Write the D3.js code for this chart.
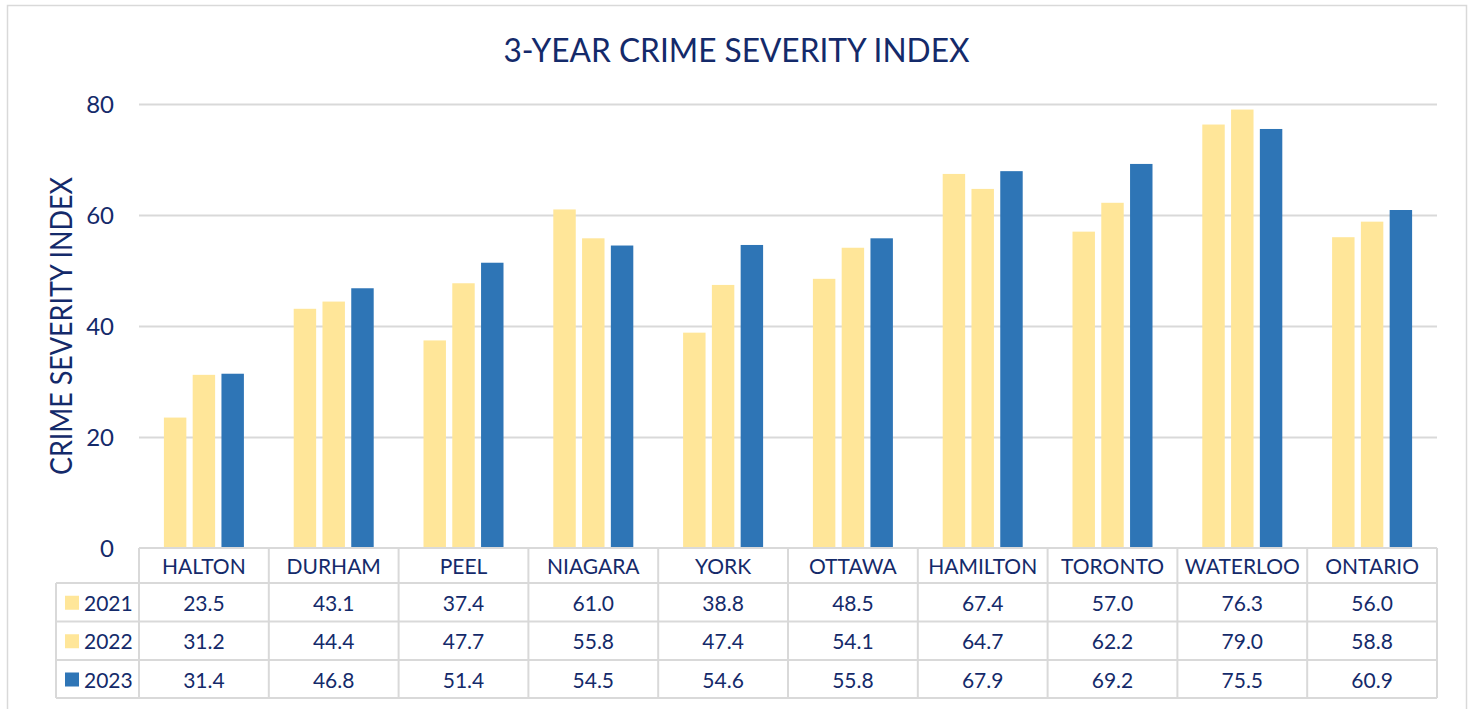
<!DOCTYPE html>
<html>
<head>
<meta charset="utf-8">
<script src="https://cdn.jsdelivr.net/npm/d3@7"></script>
<style>
  body { margin: 0; background: #fff; }
  text { font-family: Lato, "Open Sans", sans-serif; fill: #142a6a; }
</style>
</head>
<body>
<script>
var regions = ['HALTON', 'DURHAM', 'PEEL', 'NIAGARA', 'YORK', 'OTTAWA', 'HAMILTON', 'TORONTO', 'WATERLOO', 'ONTARIO'];
var years   = ['2021', '2022', '2023'];

var values2021 = [23.5, 43.1, 37.4, 61.0, 38.8, 48.5, 67.4, 57.0, 76.3, 56.0];
var values2022 = [31.2, 44.4, 47.7, 55.8, 47.4, 54.1, 64.7, 62.2, 79.0, 58.8];
var values2023 = [31.4, 46.8, 51.4, 54.5, 54.6, 55.8, 67.9, 69.2, 75.5, 60.9];

var yTicks = [0, 20, 40, 60, 80];
var colors = ['#ffe699', '#ffe699', '#2e75b6'];

var title  = '3-YEAR CRIME SEVERITY INDEX',
    yTitle = 'CRIME SEVERITY INDEX';

{ // INIT
  var width  = 1471,
      height = 709;

  // plot area (window.top is read-only, so no "top" here)
  var plotLeft   = 139,
      plotRight  = 1437,
      plotTop    = 104,
      plotBottom = 548;

  var series = [values2021, values2022, values2023];
  var rows = years.map(function(y, i) { return {year: y, values: series[i], color: colors[i]}; });

  var svg = d3.select('body').append('svg')
      .attr('width', width)
      .attr('height', height);

  // outer frame
  svg.append('rect')
      .attr('x', 7.5).attr('y', 5.5)
      .attr('width', 1459).attr('height', 720)
      .attr('fill', 'none')
      .attr('stroke', '#d9d9d9')
      .attr('stroke-width', 1.5);

  var x = d3.scaleBand()
      .domain(regions)
      .range([plotLeft, plotRight])
      .padding(0);

  var x1 = d3.scaleBand()
      .domain(years)
      .range([-40, 40])
      .paddingInner(0.22);

  var y = d3.scaleLinear()
      .domain([0, 80])
      .range([plotBottom, plotTop]);

  svg.append('text')
      .attr('x', 736.5)
      .attr('y', 62)
      .attr('text-anchor', 'middle')
      .attr('font-size', 33)
      .attr('textLength', 466)
      .attr('lengthAdjust', 'spacingAndGlyphs')
      .text(title);

  svg.append('text')
      .attr('transform', 'translate(71.5,' + y(40) + ') rotate(-90)')
      .attr('text-anchor', 'middle')
      .attr('font-size', 30)
      .attr('textLength', 298)
      .attr('lengthAdjust', 'spacingAndGlyphs')
      .text(yTitle);

  // gridlines + tick labels
  svg.append('g')
      .attr('transform', 'translate(' + plotLeft + ',0)')
      .call(d3.axisLeft(y).tickValues(yTicks).tickSize(plotLeft - plotRight).tickPadding(25))
      .call(function(g) {
        g.select('.domain').remove();
        g.selectAll('.tick line')
            .attr('stroke', '#d9d9d9')
            .attr('stroke-width', 2)
            .filter(function(d) { return d === 0; }).remove();
        g.selectAll('.tick text')
            .attr('fill', '#142a6a')
            .attr('font-size', 24)
            .attr('font-family', 'Lato, sans-serif')
            .attr('dy', '0.36em');
      });

  // bars
  var groups = svg.append('g').selectAll('g')
    .data(rows)
    .enter().append('g')
      .attr('fill', function(d) { return d.color; });

  groups.selectAll('rect')
    .data(function(d) { return d.values.map(function(v, i) { return {region: regions[i], year: d.year, value: v}; }); })
    .enter().append('rect')
      .attr('x', function(d) { return x(d.region) + x.bandwidth() / 2 + x1(d.year); })
      .attr('y', function(d) { return y(d.value); })
      .attr('width', x1.bandwidth())
      .attr('height', function(d) { return plotBottom - y(d.value); });

  // data table
  var rowY = [548, 583, 621.5, 660, 698];
  var legendLeft = 56;
  var table = svg.append('g')
      .attr('stroke', '#d9d9d9')
      .attr('stroke-width', 2);

  table.append('line')
      .attr('x1', plotLeft).attr('x2', plotRight)
      .attr('y1', rowY[0]).attr('y2', rowY[0]);
  rowY.slice(1).forEach(function(ry) {
    table.append('line')
        .attr('x1', legendLeft).attr('x2', plotRight)
        .attr('y1', ry).attr('y2', ry);
  });
  table.append('line')
      .attr('x1', legendLeft).attr('x2', legendLeft)
      .attr('y1', rowY[1]).attr('y2', rowY[4]);
  regions.concat(['end']).forEach(function(r) {
    var vx = r === 'end' ? plotRight : x(r);
    table.append('line')
        .attr('x1', vx).attr('x2', vx)
        .attr('y1', rowY[0]).attr('y2', rowY[4]);
  });

  svg.append('g').selectAll('text')
    .data(regions)
    .enter().append('text')
      .attr('x', function(d) { return x(d) + x.bandwidth() / 2; })
      .attr('y', (rowY[0] + rowY[1]) / 2 + 1)
      .attr('dy', '0.36em')
      .attr('text-anchor', 'middle')
      .attr('font-size', 21)
      .text(function(d) { return d; });

  rows.forEach(function(row, i) {
    var cy = (rowY[i + 1] + rowY[i + 2]) / 2 + 1;

    svg.append('rect')
        .attr('x', 65).attr('y', cy - 7.5)
        .attr('width', 14).attr('height', 14)
        .attr('fill', row.color);

    svg.append('text')
        .attr('x', 84)
        .attr('y', cy)
        .attr('dy', '0.36em')
        .attr('font-size', 21)
        .text(row.year);

    svg.append('g').selectAll('text')
      .data(row.values)
      .enter().append('text')
        .attr('x', function(d, j) { return x(regions[j]) + x.bandwidth() / 2; })
        .attr('y', cy)
        .attr('dy', '0.36em')
        .attr('text-anchor', 'middle')
        .attr('font-size', 21)
        .text(function(d) { return d3.format('.1f')(d); });
  });
}
</script>
</body>
</html>
